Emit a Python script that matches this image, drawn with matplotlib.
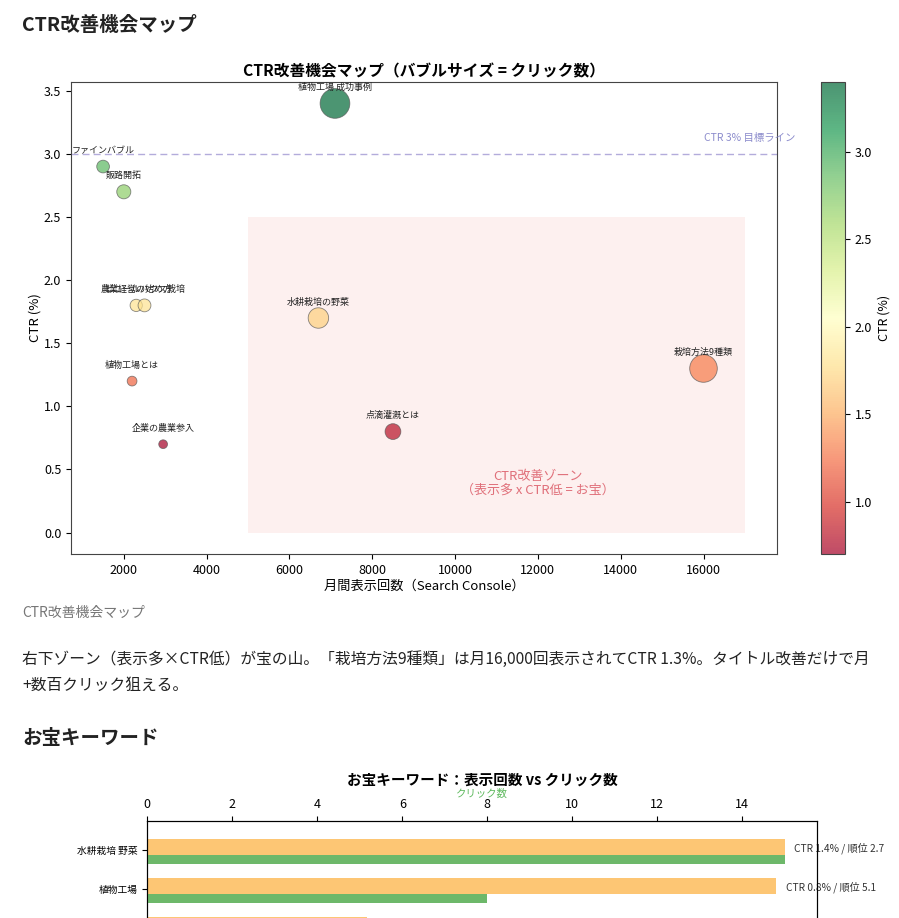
import matplotlib
matplotlib.use('Agg')
import matplotlib.pyplot as plt
import numpy as np

plt.rcParams['font.family'] = ['Noto Sans CJK JP', 'DejaVu Sans']
plt.rcParams['axes.unicode_minus'] = False

W, H = 899, 918

# ---- bubble chart data ----
keywords = ['植物工場 成功事例', 'ファインバブル', '販路開拓', '農業経営の始め方',
            'ビニールハウス栽培', '水耕栽培の野菜', '植物工場とは', '企業の農業参入',
            '点滴灌漑とは', '栽培方法9種類']
impressions = [7100, 1500, 2000, 2300, 2500, 6700, 2200, 2950, 8500, 16000]
ctr = [3.4, 2.9, 2.7, 1.8, 1.8, 1.7, 1.2, 0.7, 0.8, 1.3]
clicks = [241, 44, 54, 41, 45, 114, 26, 21, 68, 208]

# ---- treasure keyword data ----
tk_keywords = ['水耕栽培 野菜', '植物工場', '点滴灌漑']
tk_impressions = [1070, 1056, 368]
tk_clicks = [15, 8, 3]
tk_ctr = [1.4, 0.8, 0.8]
tk_rank = [2.7, 5.1, 6.3]

para1 = '右下ゾーン（表示多×CTR低）が宝の山。「栽培方法9種類」は月16,000回表示されてCTR 1.3%。タイトル改善だけで月'
para2 = '+数百クリック狙える。'


def fy(py):
    return 1 - py / H


fig = plt.figure(figsize=(W / 100, H / 100), dpi=100)
fig.patch.set_facecolor('white')

# page texts
fig.text(22 / W, fy(25), 'CTR改善機会マップ', fontsize=14, fontweight='bold',
         va='center', ha='left', color='#222222')
fig.text(22 / W, fy(613), 'CTR改善機会マップ', fontsize=10, va='center', ha='left',
         color='#777777')
fig.text(22 / W, fy(659), para1, fontsize=11.3, va='center', ha='left', color='#222222')
fig.text(22 / W, fy(685), para2, fontsize=11.3, va='center', ha='left', color='#222222')
fig.text(22 / W, fy(739), 'お宝キーワード', fontsize=14, fontweight='bold',
         va='center', ha='left', color='#222222')

# ---- bubble chart ----
ax1 = fig.add_axes([71 / W, fy(554), 706 / W, 472 / H])
cax = fig.add_axes([821 / W, fy(554), 24 / W, 472 / H])

ax1.fill_between([5000, 17000], 0, 2.5, color='#e74c3c', alpha=0.08, lw=0, zorder=0)
ax1.axhline(3.0, color='#9a90d0', ls=(0, (5, 3)), lw=1, alpha=0.75, zorder=1)
ax1.text(16000, 3.13, 'CTR 3% 目標ライン', ha='left', va='center', fontsize=7.5,
         color='#8c8ccc')

sc = ax1.scatter(impressions, ctr, s=np.array(clicks) * 1.9, c=ctr, cmap='RdYlGn',
                 alpha=0.7, edgecolors='#555555', linewidths=0.6, zorder=3)
for kw, x, y in zip(keywords, impressions, ctr):
    ax1.annotate(kw, (x, y), xytext=(0, 11.5), textcoords='offset points',
                 ha='center', va='center', fontsize=6.5, color='#222222', zorder=4)

ax1.text(12000, 0.39, 'CTR改善ゾーン\n（表示多 x CTR低 = お宝）', ha='center', va='center',
         fontsize=9.4, color='#e0707a', linespacing=1.1)

ax1.set_title('CTR改善機会マップ（バブルサイズ = クリック数）', fontsize=11.3,
              fontweight='bold', pad=4)
ax1.set_xlabel('月間表示回数（Search Console）', fontsize=9.5, labelpad=2)
ax1.set_ylabel('CTR (%)', fontsize=9.5, labelpad=2)
ax1.tick_params(labelsize=9)
for sp in ax1.spines.values():
    sp.set_color('#444444')

cb = fig.colorbar(sc, cax=cax)
cb.set_label('CTR (%)', fontsize=9)
cb.ax.tick_params(labelsize=9)
cb.outline.set_edgecolor('#444444')

# ---- treasure keyword chart ----
ax_h = 300
ax = fig.add_axes([147.3 / W, fy(821 + ax_h), 669.4 / W, ax_h / H])
yy = np.arange(len(tk_keywords))
ax.barh(yy - 0.08, tk_impressions, height=0.4, color='#fdc674', zorder=2)
ax.set_ylim(-0.744 + ax_h / 39.0, -0.744)
ax.set_yticks(yy)
ax.set_yticklabels(tk_keywords, fontsize=7)
ax.tick_params(axis='x', labelbottom=False)
for imp, c, r, y in zip(tk_impressions, tk_ctr, tk_rank, yy):
    ax.annotate(f'CTR {c}% / 順位 {r}', (imp, y - 0.04), xytext=(6.5, 0),
                textcoords='offset points', va='center', ha='left', fontsize=7.3,
                color='#333333')

ax2 = ax.twiny()
ax2.barh(yy + 0.245, tk_clicks, height=0.25, color='#6db86a', zorder=2)
ax2.set_xlabel('クリック数', color='#5cb85c', fontsize=7.5, labelpad=1)
ax2.tick_params(axis='x', labelsize=9)
ax2.set_xticks(np.arange(0, 16, 2))
ax2.set_title('お宝キーワード：表示回数 vs クリック数', fontsize=10.5, fontweight='bold', pad=3)

fig.savefig('out.png', dpi=100)
